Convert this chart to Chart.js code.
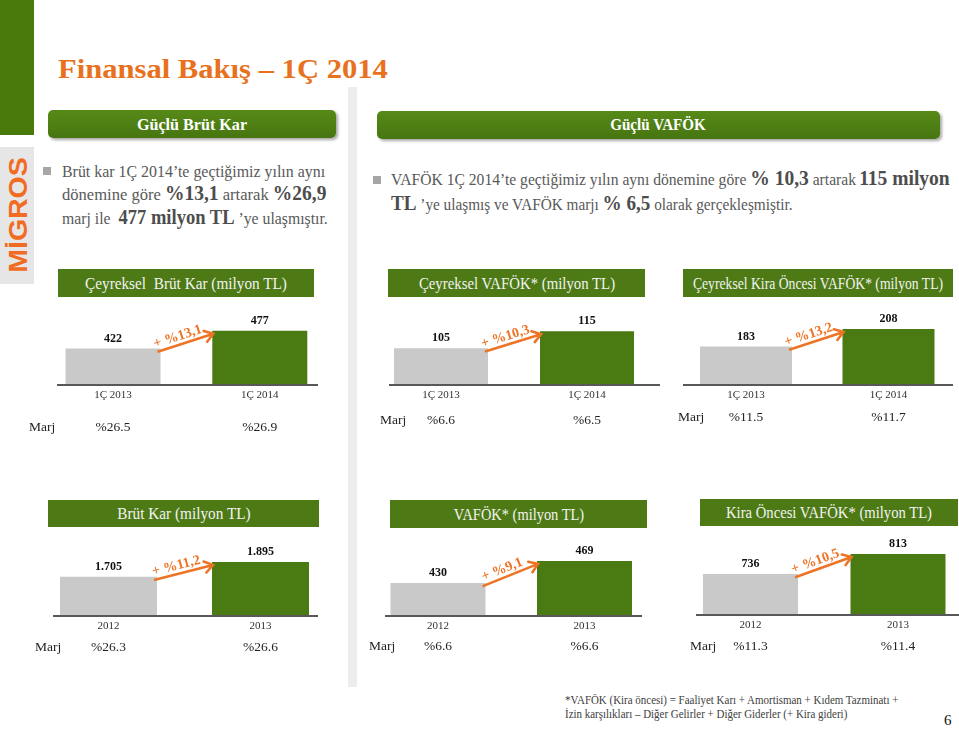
<!DOCTYPE html>
<html lang="tr">
<head>
<meta charset="utf-8">
<title>Finansal Bakış – 1Ç 2014</title>
<script src="https://cdn.jsdelivr.net/npm/chart.js@4.4.1/dist/chart.umd.min.js"></script>
<style>
html, body { margin: 0; padding: 0; }
body { width: 959px; height: 733px; position: relative; overflow: hidden; background: #fff; font-family: "Liberation Serif", serif; }
.abs { position: absolute; }
.txt { position: absolute; white-space: nowrap; line-height: 1; }
.txt b.big { font-size: 20px; color: #4d4d4d; }
canvas.chart { position: absolute; left: 0; top: 0; pointer-events: none; }
.hdr { position: absolute; background: linear-gradient(#568a18, #477510); border-radius: 5px; box-shadow: 2px 2px 3px rgba(0,0,0,0.35); }
.tbox { position: absolute; background: #4d7a14; }
.sq { position: absolute; width: 8px; height: 8px; background: #a6a6a6; }
</style>
</head>
<body>
<div class="abs" style="left:0;top:0;width:34px;height:135px;background:#4a7a0c;"></div>
<div class="abs" style="left:0;top:147px;width:34px;height:137px;background:#e6e6e6;"></div>
<div class="abs" style="left:348px;top:87px;width:9px;height:600px;background:#ededed;"></div>
<div class="hdr" style="left:48px;top:110px;width:288px;height:28px;"></div>
<div class="hdr" style="left:377px;top:111px;width:563px;height:28px;"></div>
<div class="sq" style="left:43px;top:167px;"></div>
<div class="sq" style="left:373px;top:176px;"></div>

<script>
// === Veriler ===
const quarterLabels = ['1Ç 2013', '1Ç 2014'];
const yearLabels = ['2012', '2013'];

// milyon TL
const brutKarQ = [422, 477];
const vafokQ = [105, 115];
const kiraOncesiQ = [183, 208];
const brutKarY = [1705, 1895];
const vafokY = [430, 469];
const kiraOncesiY = [736, 813];

// marj (%)
const brutKarQMarj = [26.5, 26.9];
const vafokQMarj = [6.6, 6.5];
const kiraOncesiQMarj = [11.5, 11.7];
const brutKarYMarj = [26.3, 26.6];
const vafokYMarj = [6.6, 6.6];
const kiraOncesiYMarj = [11.3, 11.4];

// büyüme (%)
const growth = [13.1, 10.3, 13.2, 11.2, 9.1, 10.5];

const chartTitles = [
    'Çeyreksel&nbsp; Brüt Kar (milyon TL)',
    'Çeyreksel VAFÖK* (milyon TL)',
    'Çeyreksel Kira Öncesi VAFÖK* (milyon TL)',
    'Brüt Kar (milyon TL)',
    'VAFÖK* (milyon TL)',
    'Kira Öncesi VAFÖK* (milyon TL)'
];

// y ekseni (eksen sıfırdan başlamıyor)
const yMin = [312, 84, 129, 1210, 373, 582];
const yMax = [560, 131, 244, 2244, 515, 890];

// === Yerleşim ===
const W = 1000, H = 733;
const ORANGE = '#ee7425';
const GREEN = '#4a7a12';
const GRAY = '#c9c9c9';

const panels = [
    { values: brutKarQ, labels: quarterLabels, marj: brutKarQMarj, c: [113, 259.8], barW: 95, axisY: 384, axisX: [57, 318], marjX: 29, marjY: 427 },
    { values: vafokQ, labels: quarterLabels, marj: vafokQMarj, c: [441, 587], barW: 94, axisY: 384, axisX: [389, 660], marjX: 380, marjY: 420 },
    { values: kiraOncesiQ, labels: quarterLabels, marj: kiraOncesiQMarj, c: [746, 888.5], barW: 92, axisY: 384, axisX: [683, 953], marjX: 678, marjY: 417 },
    { values: brutKarY, labels: yearLabels, marj: brutKarYMarj, c: [108.5, 260.5], barW: 97, axisY: 615, axisX: [53, 318], marjX: 35, marjY: 647 },
    { values: vafokY, labels: yearLabels, marj: vafokYMarj, c: [438, 584.5], barW: 95, axisY: 615, axisX: [385, 642], marjX: 369, marjY: 646 },
    { values: kiraOncesiY, labels: yearLabels, marj: kiraOncesiYMarj, c: [750.5, 898], barW: 95, axisY: 614, axisX: [696, 959], marjX: 690, marjY: 646 }
];

// [sol, üst, sağ, alt, yazı genişliği]
const titleBoxes = [
    [58, 269, 314, 297, 202], [388, 269, 645, 297, 196], [683, 269, 953, 297, 250],
    [48, 500, 319, 527, 133], [390, 500, 647, 528, 130], [700, 499, 958, 526, 206]
];

function fmtTR(v) { return String(v).replace(/\B(?=(\d{3})+(?!\d))/g, '.'); }

function addLine(html, x, base, o) {
    const el = document.createElement('div');
    el.className = 'txt';
    el.style.fontSize = o.size + 'px';
    el.style.color = o.color || '#333';
    if (o.bold) el.style.fontWeight = 'bold';
    el.innerHTML = html;
    document.body.appendChild(el);
    const max = o.max || o.size;
    el.style.top = (base - 0.8375 * max) + 'px';
    el.style.left = x + 'px';
    const s = o.w ? o.w / el.offsetWidth : (o.scale || 1);
    if (o.center) {
        el.style.transformOrigin = '50% 50%';
        el.style.transform = 'translateX(-50%) scaleX(' + s + ')';
    } else {
        el.style.transformOrigin = '0 50%';
        el.style.transform = 'scaleX(' + s + ')';
    }
    return s;
}

// === Başlıklar ve metinler ===
addLine('Finansal Bakış – 1Ç 2014', 58, 78, { size: 28, bold: true, color: '#e8711e', w: 330 });
addLine('Güçlü Brüt Kar', 192, 130, { size: 17, bold: true, color: '#fff', w: 110, center: true });
addLine('Güçlü VAFÖK', 658, 130, { size: 17, bold: true, color: '#fff', w: 96, center: true });

const gray = '#595959';
addLine('Brüt kar 1Ç 2014’te geçtiğimiz yılın aynı', 62, 177, { size: 17, color: gray, w: 263 });
addLine('dönemine göre <b class="big">%13,1</b> artarak <b class="big">%26,9</b>', 62, 199.5, { size: 17, max: 20, color: gray, w: 264 });
addLine('marj ile&nbsp; <b class="big">477 milyon TL</b> ’ye ulaşmıştır.', 62, 224, { size: 17, max: 20, color: gray, w: 266 });
addLine('VAFÖK 1Ç 2014’te geçtiğimiz yılın aynı dönemine göre <b class="big">% 10,3</b> artarak&thinsp;<b class="big">115 milyon</b>', 391, 185, { size: 16, max: 20, color: gray, w: 559 });
addLine('<b class="big">TL</b> ’ye ulaşmış ve VAFÖK marjı <b class="big">% 6,5</b> olarak gerçekleşmiştir.', 391, 210, { size: 16, max: 20, color: gray, w: 401 });

const fs = addLine('*VAFÖK (Kira öncesi) = Faaliyet Karı + Amortisman + Kıdem Tazminatı +', 565, 704, { size: 12, color: '#404040', w: 333 });
addLine('İzin karşılıkları – Diğer Gelirler + Diğer Giderler (+ Kira gideri)', 565, 718, { size: 12, color: '#404040', scale: fs });
addLine('6', 944, 726, { size: 15, color: '#111' });

// logo
const logo = document.createElement('div');
logo.className = 'txt';
logo.textContent = 'MİGROS';
logo.style.cssText += 'font-family:"Liberation Sans",sans-serif;font-weight:bold;font-size:26px;color:#f26b22;';
document.body.appendChild(logo);
const lw = logo.offsetWidth, lh = logo.offsetHeight;
logo.style.left = (17 - lw / 2) + 'px';
logo.style.top = (215 - lh / 2) + 'px';
logo.style.transform = 'rotate(-90deg) scaleX(' + (115 / lw) + ')';

// grafik başlık kutuları
titleBoxes.forEach((b, i) => {
    const d = document.createElement('div');
    d.className = 'tbox';
    d.style.left = b[0] + 'px'; d.style.top = b[1] + 'px';
    d.style.width = (b[2] - b[0]) + 'px'; d.style.height = (b[3] - b[1]) + 'px';
    document.body.appendChild(d);
    addLine(chartTitles[i], (b[0] + b[2]) / 2, (b[1] + b[3]) / 2 + 6, { size: 17, color: '#f2f2f2', w: b[4], center: true });
});

// === Grafik eklentisi ===
const slidePlugin = {
    id: 'slide',
    afterDatasetsDraw(chart, args, opts) {
        const p = opts.panel;
        const ctx = chart.ctx;
        const area = chart.chartArea;
        const bars = chart.getDatasetMeta(0).data;
        const xs = chart.scales.x;
        ctx.save();

        // eksen çizgisi
        ctx.strokeStyle = '#585858';
        ctx.lineWidth = 2;
        ctx.beginPath();
        ctx.moveTo(p.axisX[0], area.bottom + 1);
        ctx.lineTo(p.axisX[1], area.bottom + 1);
        ctx.stroke();

        ctx.textAlign = 'center';
        ctx.textBaseline = 'middle';
        bars.forEach((bar, i) => {
            ctx.fillStyle = '#111';
            ctx.font = 'bold 12px "Liberation Serif"';
            ctx.fillText(fmtTR(p.values[i]), bar.x, bar.y - 10);
            ctx.fillStyle = '#333';
            ctx.font = '11px "Liberation Serif"';
            ctx.fillText(p.labels[i], xs.getPixelForValue(i), area.bottom + 11);
            ctx.font = '13.5px "Liberation Serif"';
            ctx.fillStyle = '#222';
            ctx.fillText('%' + p.marj[i].toFixed(1), bar.x, p.marjY);
        });
        ctx.textAlign = 'left';
        ctx.fillText('Marj', p.marjX, p.marjY);

        // büyüme oku
        const g = bars[0], e = bars[1];
        const x1 = g.x + g.width / 2 - 2, y1 = g.y + 3;
        const x2 = e.x - e.width / 2 + 1, y2 = e.y + 3;
        const ang = Math.atan2(y2 - y1, x2 - x1);
        ctx.strokeStyle = ORANGE;
        ctx.lineWidth = 2.6;
        ctx.lineCap = 'round';
        ctx.beginPath();
        ctx.moveTo(x1, y1);
        ctx.lineTo(x2, y2);
        ctx.moveTo(x2 - 10 * Math.cos(ang - 0.6), y2 - 10 * Math.sin(ang - 0.6));
        ctx.lineTo(x2, y2);
        ctx.lineTo(x2 - 10 * Math.cos(ang + 0.6), y2 - 10 * Math.sin(ang + 0.6));
        ctx.stroke();

        ctx.translate((x1 + x2) / 2, (y1 + y2) / 2);
        ctx.rotate(ang);
        ctx.fillStyle = ORANGE;
        ctx.font = 'bold 14px "Liberation Serif"';
        ctx.textAlign = 'center';
        ctx.fillText('+ %' + opts.growth.toFixed(1).replace('.', ','), -6, -8);
        ctx.restore();
    }
};

panels.forEach((p, i) => {
    const cv = document.createElement('canvas');
    cv.className = 'chart';
    cv.width = W; cv.height = H;
    document.body.appendChild(cv);
    const sp = p.c[1] - p.c[0];
    new Chart(cv, {
        type: 'bar',
        data: {
            labels: p.labels,
            datasets: [{
                data: p.values,
                backgroundColor: [GRAY, GREEN],
                barPercentage: p.barW / sp,
                categoryPercentage: 1
            }]
        },
        options: {
            responsive: false,
            animation: false,
            devicePixelRatio: 1,
            events: [],
            layout: { padding: { left: p.c[0] - sp / 2, right: W - (p.c[1] + sp / 2), top: p.axisY - 80, bottom: H - p.axisY } },
            scales: {
                x: { display: false },
                y: { display: false, min: yMin[i], max: yMax[i] }
            },
            plugins: {
                legend: { display: false },
                tooltip: { enabled: false },
                slide: { panel: p, growth: growth[i] }
            }
        },
        plugins: [slidePlugin]
    });
});
</script>
</body>
</html>
